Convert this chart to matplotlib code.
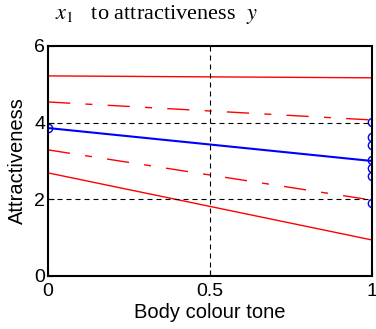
import matplotlib
matplotlib.use('Agg')
import matplotlib.pyplot as plt

# Fitted line and confidence bands, attractiveness vs body colour tone
x_ends = [0, 1]
fit = [3.86, 3.00]
ci_upper = [4.54, 4.07]
ci_lower = [3.29, 1.98]
pi_upper = [5.22, 5.17]
pi_lower = [2.69, 0.94]

obs_x = [0, 1, 1, 1, 1, 1, 1, 1]
obs_y = [3.86, 4.03, 3.62, 3.42, 3.03, 2.83, 2.62, 1.91]

plt.rcParams['font.family'] = ['Liberation Sans', 'DejaVu Sans']

fig = plt.figure(figsize=(3.76, 3.29), dpi=100)
ax = fig.add_axes([48/376, 1 - 276/329, 324/376, 230/329])

dashdot = (0, (16, 11, 5, 11))
ax.plot(x_ends, pi_upper, color='red', lw=1)
ax.plot(x_ends, pi_lower, color='red', lw=1)
ax.plot(x_ends, ci_upper, color='red', lw=1, linestyle=dashdot)
ax.plot(x_ends, ci_lower, color='red', lw=1, linestyle=dashdot)
ax.plot(x_ends, fit, color='blue', lw=1.5)
ax.plot(obs_x, obs_y, 'o', mfc='none', mec='blue', ms=6, mew=1)

for yv in [2, 4]:
    ax.axhline(yv, color='black', lw=0.8, linestyle=(0, (4.5, 3.6)))
ax.axvline(0.5, color='black', lw=0.8, linestyle=(0, (4.5, 3.6)))

ax.set_xlim(0, 1)
ax.set_ylim(0, 6)
ax.set_xticks([0, 0.5, 1])
ax.set_xticklabels(['0', '0.5', '1'])
ax.set_yticks([0, 2, 4, 6])
ax.tick_params(direction='in', length=4, labelsize=14, pad=2)
ax.tick_params(axis='x', pad=5)
for s in ax.spines.values():
    s.set_linewidth(1.5)

ax.set_xlabel('Body colour tone', fontsize=14.5, labelpad=2)
ax.set_ylabel('Attractiveness', fontsize=14.5, labelpad=5)

fig.text(55/376, 1 - 15/329, r'$x_1$   to attractiveness  $y$', fontsize=16,
         family='Liberation Serif', ha='left', va='center',
         math_fontfamily='stix')

fig.savefig('out.png', dpi=100)
